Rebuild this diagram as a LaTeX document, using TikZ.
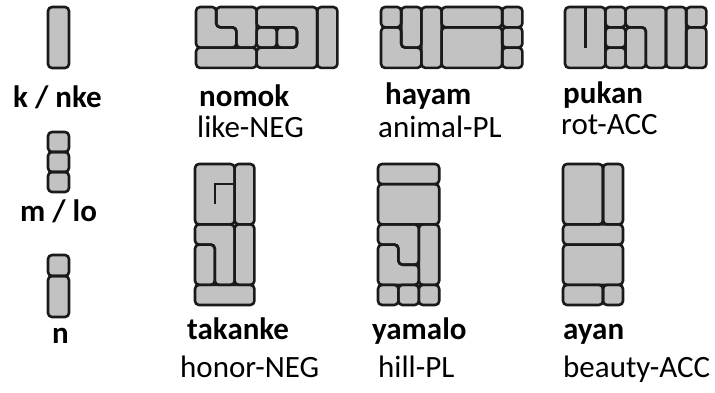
\documentclass[tikz,border=0pt]{standalone}
\usepackage{fontspec}
\setmainfont{Carlito}
\definecolor{pfillc}{HTML}{C2C2C2}
\definecolor{plinec}{HTML}{1A1A1A}
\tikzset{
  pf/.style={fill=pfillc},
  pd/.style={draw=plinec, line width=2.6pt, line join=round},
  slitline/.style={draw=plinec, line width=2.6pt, sharp corners},
  lbl/.style={anchor=base west, inner sep=0pt, font=\fontsize{31}{36}\selectfont\bfseries},
  gls/.style={anchor=base west, inner sep=0pt, font=\fontsize{31}{36}\selectfont},
}
\newcommand{\gNomok}[1]{%
  \path[#1] (0,0)--(1,0)--(1,1)--(2,1)--(2,2)--(0,2)--cycle;
  \path[#1] (1,0)--(3,0)--(3,2)--(2,2)--(2,1)--(1,1)--cycle;
  \path[#1] (0,2) rectangle (3,3);
  \path[#1] (3,0)--(6,0)--(6,3)--(3,3)--(3,2)--(5,2)--(5,1)--(3,1)--cycle;
  \path[#1] (3,1) rectangle (4,2);
  \path[#1] (4,1) rectangle (5,2);
  \path[#1] (6,0) rectangle (7,3);
}
\newcommand{\gHayam}[1]{%
  \path[#1] (0,0) rectangle (1,1);
  \path[#1] (1,0)--(2,0)--(2,2)--(1,2)--cycle;
  \path[#1] (0,1)--(1,1)--(1,2)--(2,2)--(2,3)--(0,3)--cycle;
  \path[#1] (2,0) rectangle (3,3);
  \path[#1] (3,0) rectangle (6,1);
  \path[#1] (3,1) rectangle (6,3);
  \path[#1] (6,0) rectangle (7,1);
  \path[#1] (6,1) rectangle (7,2);
  \path[#1] (6,2) rectangle (7,3);
}
\newcommand{\gPukan}[1]{%
  \path[#1] (0,0) rectangle (2,3);
  \path[#1] (2,0) rectangle (3,1);
  \path[#1] (2,1) rectangle (3,2);
  \path[#1] (2,2) rectangle (3,3);
  \path[#1] (3,1)--(4,1)--(4,3)--(3,3)--cycle;
  \path[#1] (3,0)--(5,0)--(5,3)--(4,3)--(4,1)--(3,1)--cycle;
  \path[#1] (5,0) rectangle (6,3);
  \path[#1] (6,0) rectangle (7,1);
  \path[#1] (6,1) rectangle (7,3);
}
\newcommand{\gTakanke}[1]{%
  \path[#1] (0,0) rectangle (2,3);
  \path[#1] (2,0) rectangle (3,3);
  \path[#1] (0,4)--(1,4)--(1,6)--(0,6)--cycle;
  \path[#1] (0,3)--(2,3)--(2,6)--(1,6)--(1,4)--(0,4)--cycle;
  \path[#1] (2,3) rectangle (3,6);
  \path[#1] (0,6) rectangle (3,7);
}
\newcommand{\gYamalo}[1]{%
  \path[#1] (0,0) rectangle (3,1);
  \path[#1] (0,1) rectangle (3,3);
  \path[#1] (0,3)--(2,3)--(2,5)--(1,5)--(1,4)--(0,4)--cycle;
  \path[#1] (0,4)--(1,4)--(1,5)--(2,5)--(2,6)--(0,6)--cycle;
  \path[#1] (2,3) rectangle (3,6);
  \path[#1] (0,6) rectangle (1,7);
  \path[#1] (1,6) rectangle (2,7);
  \path[#1] (2,6) rectangle (3,7);
}
\newcommand{\gAyan}[1]{%
  \path[#1] (0,0) rectangle (2,3);
  \path[#1] (2,0) rectangle (3,3);
  \path[#1] (0,3) rectangle (3,4);
  \path[#1] (0,4) rectangle (3,6);
  \path[#1] (0,6) rectangle (2,7);
  \path[#1] (2,6) rectangle (3,7);
}
\newcommand{\gLeft}[1]{%
  \path[#1] (48,7) rectangle (69,68);
  \path[#1] (48,132) rectangle (69,152);
  \path[#1] (48,152) rectangle (69,172);
  \path[#1] (48,172) rectangle (69,192);
  \path[#1] (48,255) rectangle (69,276);
  \path[#1] (48,276) rectangle (69,317);
}
\begin{document}
\begin{tikzpicture}[x=1pt, y=-1pt]
\useasboundingbox (0,0) rectangle (715,392);
\fill[white] (0,0) rectangle (715,392);
% left column
\begin{scope}[rounded corners=4pt]
  \gLeft{pf} \gLeft{pd}
\end{scope}
% top row
\begin{scope}[shift={(196,7)}, x=20.2pt, y=-20.3pt, rounded corners=4pt]
  \gNomok{pf} \gNomok{pd}
\end{scope}
\begin{scope}[shift={(381,7)}, x=20.2pt, y=-20.3pt, rounded corners=4pt]
  \gHayam{pf} \gHayam{pd}
\end{scope}
\begin{scope}[shift={(565,7)}, x=20.2pt, y=-20.3pt, rounded corners=4pt]
  \gPukan{pf} \gPukan{pd}
  \path[slitline] (1,-0.05) -- (1,2);
\end{scope}
% bottom row
\begin{scope}[shift={(195,164)}, x=19.8pt, y=-20.14pt, rounded corners=4pt]
  \gTakanke{pf} \gTakanke{pd}
  \path[slitline] (1,2) -- (1,1) -- (2,1);
\end{scope}
\begin{scope}[shift={(378,164)}, x=20.4pt, y=-20.14pt, rounded corners=4pt]
  \gYamalo{pf} \gYamalo{pd}
\end{scope}
\begin{scope}[shift={(563,164)}, x=20pt, y=-20.14pt, rounded corners=4pt]
  \gAyan{pf} \gAyan{pd}
\end{scope}
% labels
\node[lbl] (lk) at (13,107) {k / nke};
\node[lbl] (lm) at (20,221) {m / lo};
\node[lbl] (ln) at (52,343) {n};
\node[lbl] (w1) at (199,106) {nomok};
\node[lbl] (w2) at (385,104) {hayam};
\node[lbl] (w3) at (563,103) {pukan};
\node[gls] (g1) at (197,137) {like-NEG};
\node[gls] (g2) at (378,137) {animal-PL};
\node[gls] (g3) at (561,134) {rot-ACC};
\node[lbl] (w4) at (187,339) {takanke};
\node[lbl] (w5) at (372,339) {yamalo};
\node[lbl] (w6) at (563,339) {ayan};
\node[gls] (g4) at (180,377) {honor-NEG};
\node[gls] (g5) at (378,377) {hill-PL};
\node[gls] (g6) at (563,377) {beauty-ACC};
\end{tikzpicture}
\end{document}
